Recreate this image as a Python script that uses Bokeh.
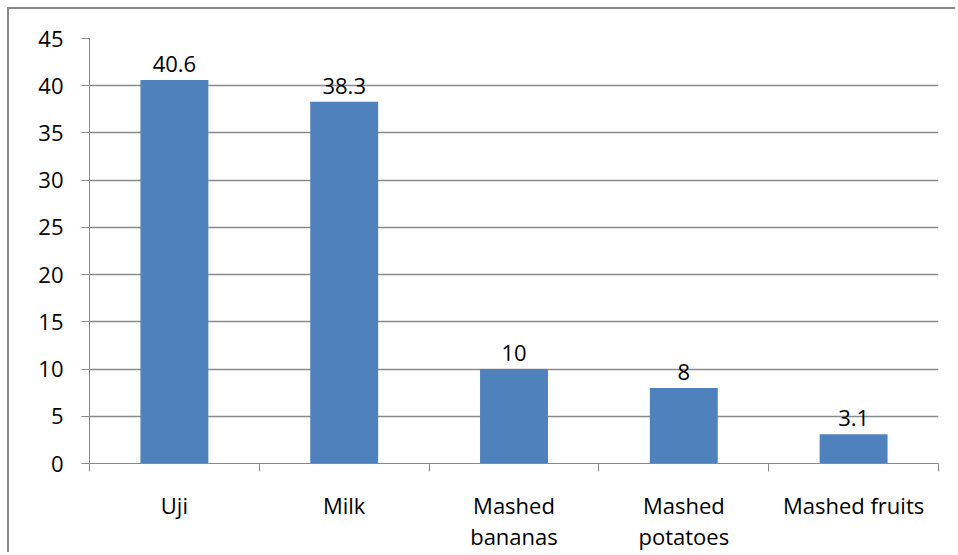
from bokeh.plotting import figure
from bokeh.models import ColumnDataSource, FixedTicker
from bokeh.core.properties import value
from bokeh.embed import file_html
from bokeh.resources import INLINE

categories = ["Uji", "Milk", "Mashed\nbananas", "Mashed\npotatoes", "Mashed fruits"]
values = [40.6, 38.3, 10, 8, 3.1]
value_labels = ["40.6", "38.3", "10", "8", "3.1"]
y_ticks = [0, 5, 10, 15, 20, 25, 30, 35, 40, 45]

FONT = "Open Sans"
FS = "22px"
GRID = "#8a8a8a"
BAR = "#4F81BD"

centers = [i + 0.5 for i in range(len(categories))]
boundaries = [i for i in range(len(categories) + 1)]

src = ColumnDataSource(dict(x=centers, top=values, lab=value_labels))

p = figure(width=948, height=545, x_range=(0, len(categories)), y_range=(0, 45),
           output_backend="svg", toolbar_location=None,
           margin=(7, 0, 0, 7),
           styles={"border-left": "2px solid #888888", "border-top": "2px solid #888888"},
           min_border_left=80, min_border_right=19, min_border_top=29, min_border_bottom=89)
p.outline_line_color = None
p.background_fill_color = "white"
p.border_fill_color = "white"

p.vbar(x="x", top="top", width=0.4, bottom=0, source=src, fill_color=BAR, line_color=None)
p.text(x="x", y="top", text="lab", source=src, text_align="center", text_baseline="alphabetic",
       y_offset=-16, text_font=value(FONT), text_font_size=FS, text_color="black")

# y axis
p.yaxis.ticker = FixedTicker(ticks=y_ticks)
p.yaxis.axis_line_color = GRID
p.yaxis.major_tick_line_color = GRID
p.yaxis.major_tick_out = 8
p.yaxis.major_tick_in = 0
p.yaxis.minor_tick_line_color = None
p.yaxis.major_label_standoff = 18
p.yaxis.major_label_text_font = FONT
p.yaxis.major_label_text_font_size = FS
p.yaxis.major_label_text_color = "black"

# x axis: labels at centers, tick marks at category boundaries
p.xaxis.ticker = FixedTicker(ticks=centers, minor_ticks=boundaries)
p.xaxis.major_label_overrides = {c: lab for c, lab in zip(centers, categories)}
p.xaxis.axis_line_color = GRID
p.xaxis.major_tick_line_color = None
p.xaxis.major_tick_out = 0
p.xaxis.major_tick_in = 0
p.xaxis.minor_tick_line_color = GRID
p.xaxis.minor_tick_out = 8
p.xaxis.minor_tick_in = 0
p.xaxis.major_label_standoff = 18
p.xaxis.major_label_text_font = FONT
p.xaxis.major_label_text_font_size = FS
p.xaxis.major_label_text_color = "black"
p.xaxis.major_label_text_line_height = 1.06

p.xgrid.grid_line_color = None
p.ygrid.ticker = FixedTicker(ticks=y_ticks)
p.ygrid.grid_line_color = GRID
p.ygrid.grid_line_width = 1.3

open("out.html", "w").write(file_html(p, INLINE))
